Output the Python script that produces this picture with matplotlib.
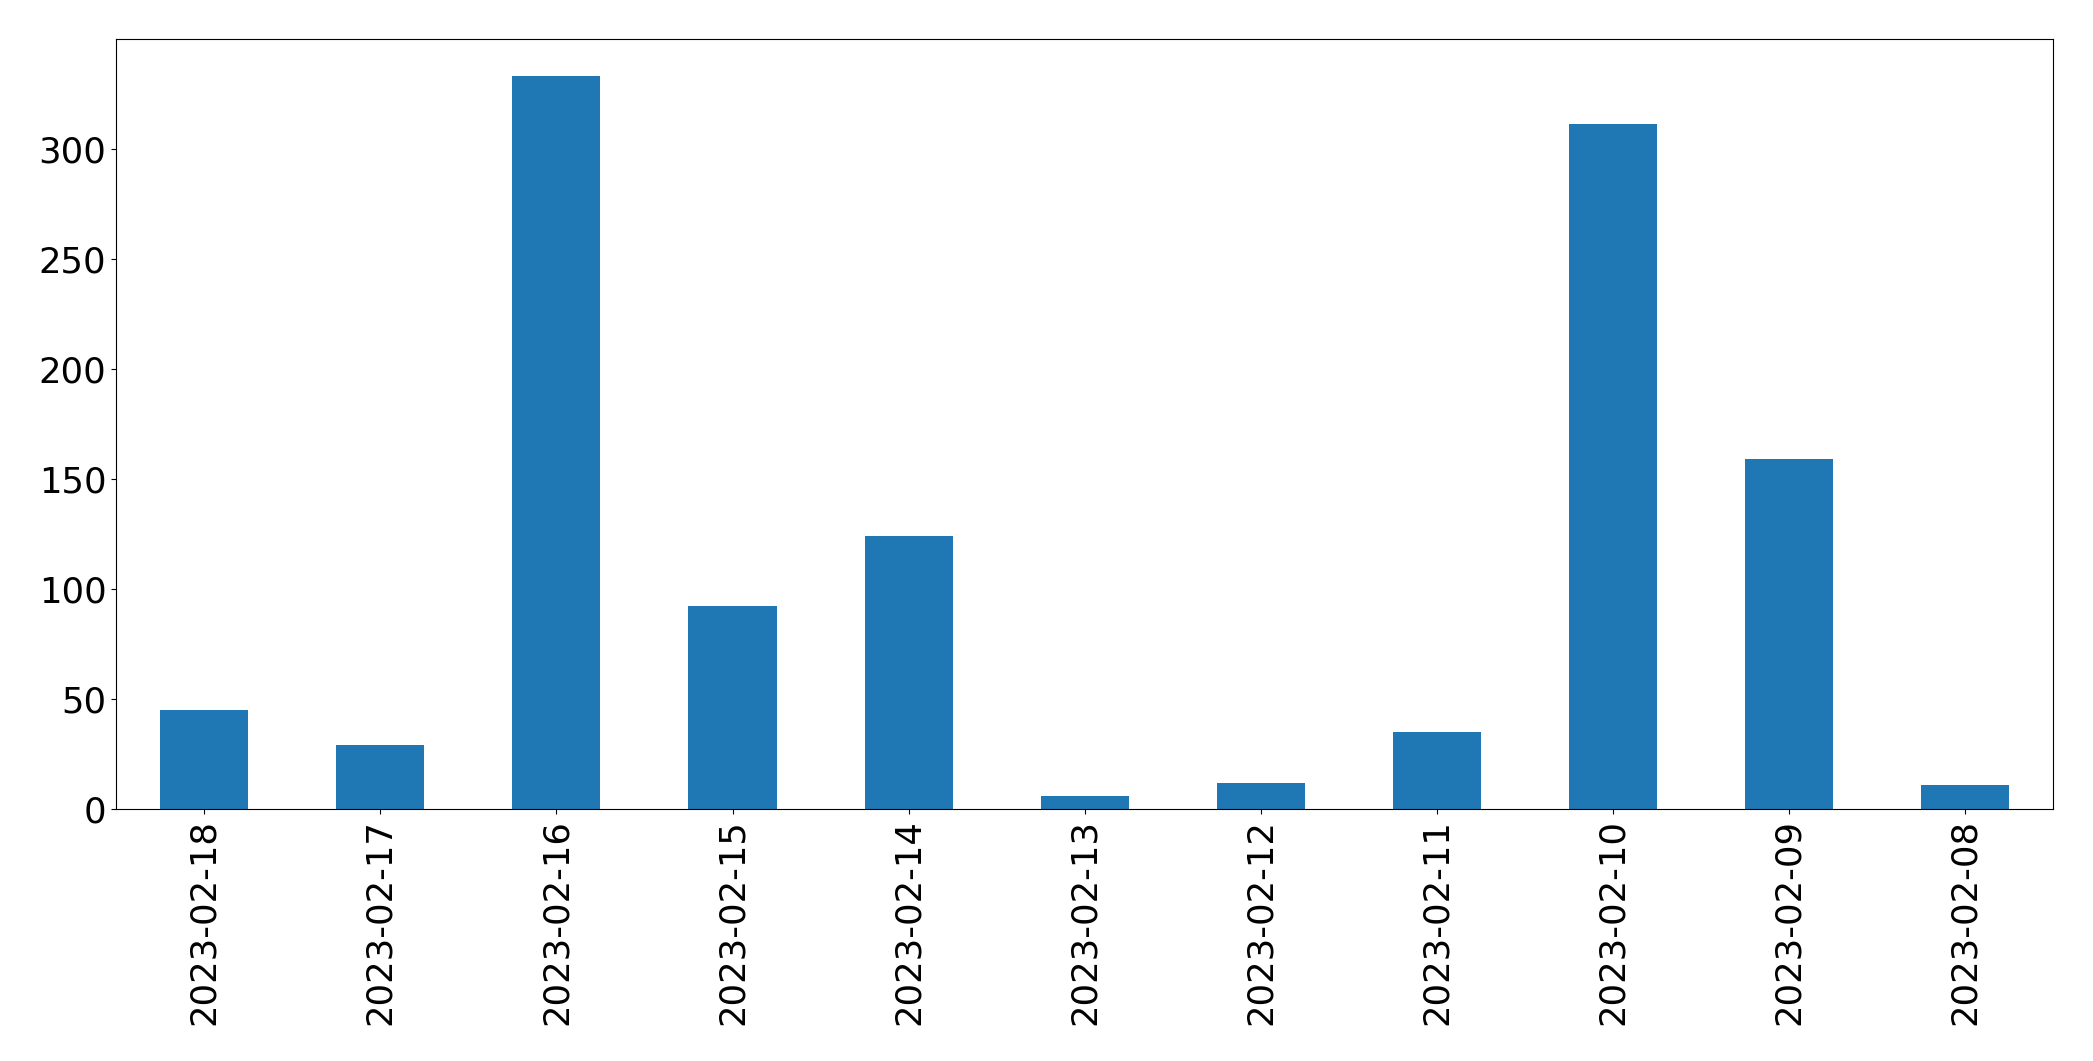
import matplotlib
matplotlib.use("Agg")
import matplotlib.pyplot as plt

dates = ["2023-02-18", "2023-02-17", "2023-02-16", "2023-02-15", "2023-02-14",
         "2023-02-13", "2023-02-12", "2023-02-11", "2023-02-10", "2023-02-09",
         "2023-02-08"]
counts = [45, 29, 333, 92, 124, 6, 12, 35, 311, 159, 11]

fig = plt.figure(figsize=(20.93, 10.61), dpi=100)
ax = fig.add_axes([0.0555, 0.2375, 0.9255, 0.7255])
x = list(range(len(dates)))
ax.bar(x, counts, width=0.5, color="#1f77b4")
ax.set_xticks(x)
ax.set_xticklabels(dates, rotation=90)
ax.set_xlim(-0.5, len(dates) - 0.5)
ax.tick_params(axis="both", labelsize=25.5)
fig.savefig("out.png", dpi=100)
